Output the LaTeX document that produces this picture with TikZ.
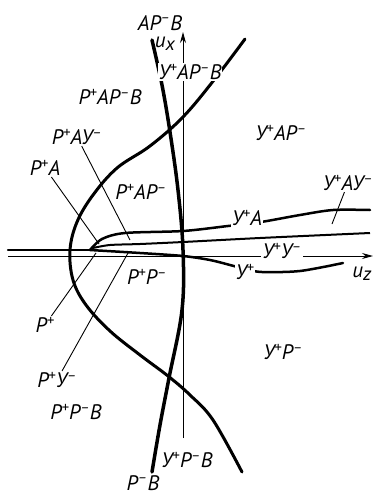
\documentclass[tikz,border=0pt]{standalone}
\usepackage{fontspec}
\setmainfont{PT Sans}
\usetikzlibrary{arrows.meta}
\tikzset{lbl/.style={font=\itshape\fontsize{21}{21}\selectfont,inner sep=1pt},wlbl/.style={lbl,fill=white},
bold/.style={line width=3pt,line cap=round},branch/.style={line width=2.5pt,line cap=round},
lead/.style={line width=0.9pt},axis/.style={line width=1pt,-{Stealth[length=11pt,width=6pt]}}}
\newcommand\sP{\textsuperscript{+}}
\newcommand\sM{\textsuperscript{--}}
\newcommand\sub[1]{\textsubscript{\fontsize{19}{19}\selectfont#1}}

\begin{document}
\begin{tikzpicture}[x=1pt,y=-1pt]
\useasboundingbox(0,0)rectangle(382,496);
% axes
\draw[axis](8,256)--(373,256);
\draw[axis](183,438)--(183,32);
% separatrices
\draw[bold]plot[smooth,tension=0.6]coordinates{(245,39)(214,80)(183,117)(150,146)(117,168)(93,195)(77,222)(70,250)(73,280)(86,305)(110,331)(140,355)(168,376)(190,395)(213,420)(242,472)};
\draw[bold,line width=3.5pt]plot[smooth,tension=0.6]coordinates{(152,40)(162,85)(170,132)(178,190)(183,250)(182,310)(169,378)(160,425)(152,472)};
\draw[branch](8,250)--(90,250);
\draw[branch]plot[smooth,tension=0.5]coordinates{(90,250)(102,239)(125,233)(183,231)(228,226)(247,224)(267,221)(300,215)(333,210)(370,210)};
\draw[line width=2pt]plot[smooth,tension=0.5]coordinates{(93,248)(110,245)(140,244)(183,242)(260,238)(370,233)};
\draw[branch]plot[smooth,tension=0.5]coordinates{(90,250)(140,253)(183,256)(210,260)(230,265)(245,269)(262,272)(300,271)(343,263)};
% region labels
\node[lbl](apb)at(160,23){АР\sM В};
\node[lbl](ux)at(165,44){u\sub{x}};
\node[wlbl](yapbx)at(190,72){У\sP АР\sM В};
\node[lbl](papb)at(110,97){Р\sP АР\sM В};
\node[lbl](yap)at(281,133){У\sP АР\sM};
\node[lbl](pay)at(77,137){Р\sP АУ\sM};
\node[lbl](pa)at(45,168){Р\sP А};
\node[lbl](pap)at(141,192){Р\sP АР\sM};
\node[lbl](yay)at(348,183){У\sP АУ\sM};
\node[wlbl](ya)at(247,218){У\sP А};
\node[wlbl](yy)at(282,251){У\sP У\sM};
\node[wlbl](yp)at(245,272){У\sP};
\node[lbl](uz)at(362,274){u\sub{z}};
\node[lbl](pp)at(147,277){Р\sP Р\sM};
\node[lbl](rp)at(45,325){Р\sP};
\node[lbl](yps)at(283,352){У\sP Р\sM};
\node[lbl](py)at(57,380){Р\sP У\sM};
\node[lbl](ppb)at(76,412){Р\sP Р\sM В};
\node[lbl](ypb)at(187,460){У\sP Р\sM В};
\node[lbl](pb)at(143,483){Р\sM В};
% leaders
\coordinate(cpay)at(130,240);\coordinate(cpa)at(99,244);\coordinate(crp)at(96,253);
\coordinate(cpy)at(128,253);\coordinate(cyay)at(332,224);
\foreach\n/\c in{pay/cpay,pa/cpa,rp/crp,py/cpy,yay/cyay}\draw[lead](\n)--(\c);
\end{tikzpicture}
\end{document}
